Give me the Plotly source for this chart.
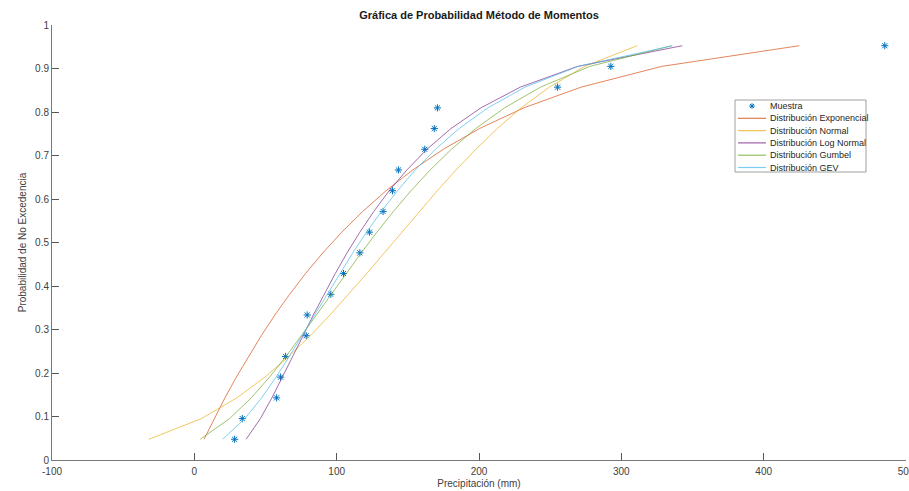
import plotly.graph_objects as go

# Probabilidad de no excedencia (posiciones de trazado)
prob = [0.0476, 0.0952, 0.1429, 0.1905, 0.2381, 0.2857, 0.3333, 0.3810, 0.4286, 0.4762,
        0.5238, 0.5714, 0.6190, 0.6667, 0.7143, 0.7619, 0.8095, 0.8571, 0.9048, 0.9524]

muestra = [28.3, 33.7, 57.8, 60.6, 64.1, 78.6, 79.3, 95.9, 104.8, 116.3,
           123.0, 132.6, 139.2, 143.4, 161.9, 168.6, 170.8, 255.2, 292.6, 485.1]
exponencial = [6.8, 14.0, 21.5, 29.5, 38.0, 47.0, 56.6, 67.0, 78.1, 90.3,
               103.6, 118.3, 134.7, 153.4, 174.9, 200.3, 231.5, 271.7, 328.3, 425.0]
normal = [-31.9, 5.0, 29.8, 49.6, 66.4, 81.4, 95.3, 108.5, 121.1, 133.5,
          145.7, 158.1, 170.7, 183.9, 197.8, 212.8, 229.6, 249.4, 274.2, 311.1]
lognormal = [36.4, 46.4, 54.5, 62.0, 69.2, 76.4, 83.6, 91.1, 99.0, 107.3,
             116.3, 126.1, 136.9, 149.3, 163.4, 180.3, 201.3, 229.0, 269.2, 342.8]
gumbel = [4.1, 24.8, 40.0, 52.8, 64.4, 75.3, 85.8, 96.2, 106.6, 117.3,
          128.3, 139.9, 152.2, 165.7, 180.6, 197.7, 217.9, 243.2, 277.8, 335.4]
gev = [19.9, 35.5, 47.3, 57.4, 66.7, 75.6, 84.4, 93.1, 102.1, 111.3,
       121.0, 131.4, 142.7, 155.2, 169.4, 186.0, 206.2, 232.3, 269.6, 336.0]

series_names = ["Distribución Exponencial", "Distribución Normal", "Distribución Log Normal",
                "Distribución Gumbel", "Distribución GEV"]
series_data = [exponencial, normal, lognormal, gumbel, gev]
series_colors = ["#D95319", "#EDB120", "#7E2F8E", "#77AC30", "#4DBEEE"]
sample_name = "Muestra"
sample_color = "#0072BD"

x_ticks = [-100, 0, 100, 200, 300, 400, 500]
y_ticks = [0, 0.1, 0.2, 0.3, 0.4, 0.5, 0.6, 0.7, 0.8, 0.9, 1]

W, H = 909, 491
L, R, T, B = 52, 3, 25, 31
PW, PH = W - L - R, H - T - B

FONT = "Liberation Sans, Arial, sans-serif"
TXT = "#404040"

fig = go.Figure()
fig.add_trace(go.Scatter(x=muestra, y=prob, mode="markers", name=sample_name,
                         marker=dict(symbol="asterisk-open", size=6, color=sample_color,
                                     line=dict(color=sample_color, width=1)),
                         showlegend=False))
for name, data, col in zip(series_names, series_data, series_colors):
    fig.add_trace(go.Scatter(x=data, y=prob, mode="lines", name=name,
                             line=dict(color=col, width=1), opacity=0.7, showlegend=False))


def px2paper(px, py):
    return (px - L) / PW, (H - B - py) / PH


# Manual legend (MATLAB style, compact rows)
shapes = []
annotations = []
bx0, by0 = px2paper(735, 100)
bx1, by1 = px2paper(866, 172)
shapes.append(dict(type="rect", xref="paper", yref="paper", x0=bx0, x1=bx1, y0=by1, y1=by0,
                   line=dict(color="#a0a0a0", width=1), fillcolor="white", layer="above"))
row_y = [106, 118.3, 130.6, 142.9, 155.2, 167.5]
labels = [sample_name] + series_names
for i, (lab, ry) in enumerate(zip(labels, row_y)):
    if i == 0:
        cx, cy = px2paper(752, ry)
        dx, dy = 2.8 / PW, 2.8 / PH
        ex, ey = 2.0 / PW, 2.0 / PH
        path = (f"M{cx-dx},{cy} L{cx+dx},{cy} M{cx},{cy-dy} L{cx},{cy+dy} "
                f"M{cx-ex},{cy-ey} L{cx+ex},{cy+ey} M{cx-ex},{cy+ey} L{cx+ex},{cy-ey}")
        shapes.append(dict(type="path", xref="paper", yref="paper", path=path,
                           line=dict(color=sample_color, width=1), layer="above"))
    else:
        lx0, ly = px2paper(738, ry)
        lx1, _ = px2paper(766, ry)
        shapes.append(dict(type="line", xref="paper", yref="paper", x0=lx0, x1=lx1, y0=ly, y1=ly,
                           line=dict(color=series_colors[i - 1], width=1.2), layer="above",
                           opacity=0.75))
    tx, ty = px2paper(768, ry)
    annotations.append(dict(xref="paper", yref="paper", x=tx, y=ty, text=lab, showarrow=False,
                            xanchor="left", yanchor="middle", font=dict(size=9, color="#262626",
                                                                         family=FONT)))

fig.update_layout(
    width=W, height=H,
    margin=dict(l=L, r=R, t=T, b=B, pad=0),
    plot_bgcolor="white", paper_bgcolor="white",
    font=dict(family=FONT, size=10, color=TXT),
    title=dict(text="<b>Gráfica de Probabilidad Método de Momentos</b>", x=(L + PW / 2) / W,
               xanchor="center", y=1 - 15.5 / H, yanchor="middle",
               font=dict(size=11, color="#1a1a1a", family=FONT)),
    shapes=shapes, annotations=annotations,
    showlegend=False,
)
fig.update_xaxes(range=[-100, 500], tickvals=x_ticks, ticktext=[str(v) for v in x_ticks],
                 ticks="inside", ticklen=7, tickcolor="#555555", tickwidth=1,
                 showline=True, linecolor="#777777", linewidth=1, mirror=False,
                 showgrid=False, zeroline=False, automargin=False,
                 ticklabelstandoff=2, ticklabeloverflow="allow",
                 tickfont=dict(size=10, color=TXT),
                 title=dict(text="Precipitación (mm)", font=dict(size=10, color=TXT), standoff=3))
fig.update_yaxes(range=[0, 1], tickvals=y_ticks, ticktext=[f"{v:g}" for v in y_ticks],
                 ticks="inside", ticklen=7, tickcolor="#555555", tickwidth=1,
                 showline=True, linecolor="#777777", linewidth=1, mirror=False,
                 showgrid=False, zeroline=False, automargin=False,
                 tickfont=dict(size=10, color=TXT),
                 title=dict(text="Probabilidad de No Excedencia", font=dict(size=10, color=TXT),
                            standoff=6))

fig.write_html("out.html")
